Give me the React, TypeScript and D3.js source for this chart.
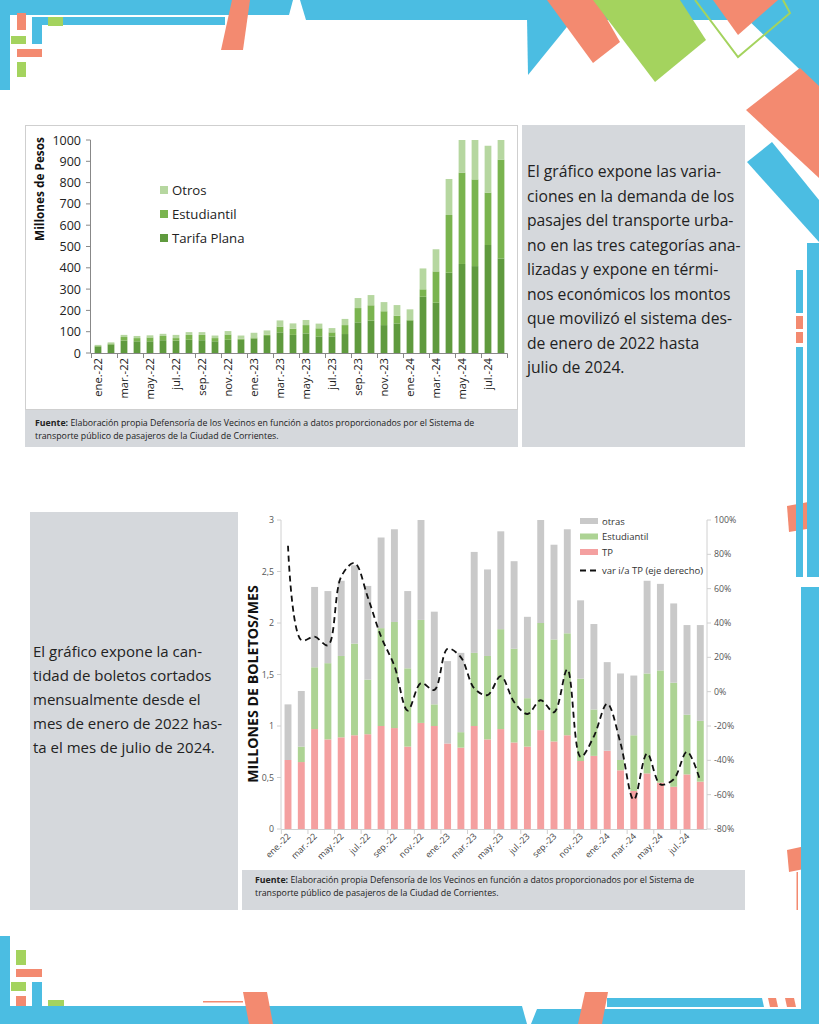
import React from 'react'
import * as d3 from 'd3'

// categorias: ene-22 .. ago-24
const months = [
  'ene.-22', 'feb.-22', 'mar.-22', 'abr.-22', 'may.-22', 'jun.-22', 'jul.-22', 'ago.-22',
  'sep.-22', 'oct.-22', 'nov.-22', 'dic.-22', 'ene.-23', 'feb.-23', 'mar.-23', 'abr.-23',
  'may.-23', 'jun.-23', 'jul.-23', 'ago.-23', 'sep.-23', 'oct.-23', 'nov.-23', 'dic.-23',
  'ene.-24', 'feb.-24', 'mar.-24', 'abr.-24', 'may.-24', 'jun.-24', 'jul.-24', 'ago.-24',
]

// grafico 1: millones de pesos
const tarifaPlana = [30, 40, 58, 55, 55, 60, 58, 62, 60, 55, 62, 62, 68, 80, 97, 85, 92, 78, 78, 89, 144, 152, 131, 139, 152, 264, 236, 377, 418, 408, 507, 444]
const estudiantil = [3, 5, 17, 15, 18, 20, 12, 23, 25, 15, 25, 5, 5, 6, 27, 29, 39, 38, 19, 42, 67, 72, 65, 36, 3, 35, 147, 271, 429, 407, 246, 464]
const otros = [5, 5, 10, 10, 10, 10, 15, 13, 13, 12, 16, 15, 22, 20, 29, 25, 24, 22, 20, 29, 47, 48, 43, 50, 50, 98, 104, 169, 153, 185, 220, 92]
const pesosTicks = [0, 100, 200, 300, 400, 500, 600, 700, 800, 900, 1000]

// grafico 2: millones de boletos / mes
const tp = [0.67, 0.65, 0.97, 0.87, 0.89, 0.91, 0.92, 1.0, 0.98, 0.80, 1.03, 1.0, 0.83, 0.79, 1.0, 0.87, 0.97, 0.84, 0.80, 0.96, 0.85, 0.91, 0.66, 0.71, 0.76, 0.57, 0.37, 0.54, 0.45, 0.41, 0.53, 0.46]
const estud = [0, 0.15, 0.60, 0.74, 0.79, 0.89, 0.53, 0.95, 1.03, 0.76, 1.0, 0.21, 0, 0.15, 0.71, 0.81, 0.97, 0.91, 0.47, 1.04, 0.99, 0.99, 0.80, 0.45, 0, 0.10, 0.54, 0.97, 1.09, 1.01, 0.58, 0.59]
const otras = [0.54, 0.54, 0.78, 0.70, 0.73, 0.76, 0.91, 0.88, 0.90, 0.75, 0.97, 0.90, 0.80, 0.77, 0.98, 0.84, 0.95, 0.85, 0.79, 1.0, 0.92, 1.01, 0.76, 0.83, 0.86, 0.84, 0.58, 0.90, 0.84, 0.77, 0.87, 0.93]
const varTP = [0.85, 0.30, 0.32, 0.27, 0.67, 0.75, 0.55, 0.32, 0.15, -0.11, 0.05, 0.01, 0.25, 0.20, 0.02, -0.02, 0.09, -0.06, -0.13, -0.05, -0.12, 0.13, -0.38, -0.26, -0.07, -0.30, -0.63, -0.36, -0.54, -0.51, -0.35, -0.52]
const boletosTicks = [0, 0.5, 1, 1.5, 2, 2.5, 3]
const pctTicks = [-0.8, -0.6, -0.4, -0.2, 0, 0.2, 0.4, 0.6, 0.8, 1.0]

const textTop = [
  'El gráfico expone las varia-',
  'ciones en la demanda de los',
  'pasajes del transporte urba-',
  'no en las tres categorías ana-',
  'lizadas y expone en térmi-',
  'nos económicos los montos',
  'que movilizó el sistema des-',
  'de enero de 2022 hasta',
  'julio de 2024.',
]
const textBottom = [
  'El gráfico expone la can-',
  'tidad de boletos cortados',
  'mensualmente desde el',
  'mes de enero de 2022 has-',
  'ta el mes de julio de 2024.',
]
const fuente1 = 'Elaboración propia Defensoría de los Vecinos en función a datos proporcionados por el Sistema de'
const fuente2 = 'transporte público de pasajeros de la Ciudad de Corrientes.'

const BLUE = '#4bbde2'
const SALMON = '#f38a70'
const GREEN = '#a4d35e'
const PANEL = '#d5d8dc'
const FONT = '"Open Sans", sans-serif'

const decoPolys: [string, number[][]][] = [
  [BLUE, [[0, 0], [293, 0], [289, 15], [0, 15]]],
  [BLUE, [[300, 0], [819, 0], [819, 20], [306, 20]]],
  [SALMON, [[232, 0], [250, 0], [243, 50], [221, 50]]],
  [BLUE, [[527, 17], [575, 17], [528, 75]]],
  [BLUE, [[745, 17], [819, 17], [819, 88]]],
  [SALMON, [[547, 0], [596, 0], [620, 42], [593, 63]]],
  [GREEN, [[593, 0], [680, 0], [706, 40], [655, 82]]],
  [SALMON, [[713, 0], [778, 0], [738, 35]]],
  [SALMON, [[746, 110], [800, 68], [819, 86], [819, 178]]],
  [BLUE, [[747, 162], [772, 142], [819, 200], [819, 242]]],
  [SALMON, [[787, 506], [819, 500], [819, 527], [789, 532]]],
  [SALMON, [[787, 850], [819, 843], [819, 866], [789, 872]]],
  [BLUE, [[0, 1006], [522, 1006], [527, 1024], [0, 1024]]],
  [BLUE, [[531, 1024], [537, 1009], [819, 1009], [819, 1024]]],
  [BLUE, [[607, 998], [762, 998], [764, 1007], [607, 1007]]],
  [SALMON, [[585, 992], [608, 992], [602, 1024], [578, 1024]]],
  [SALMON, [[243, 992], [267, 992], [273, 1024], [249, 1024]]],
  [SALMON, [[768, 998], [776, 998], [778, 1007], [770, 1007]]],
  [SALMON, [[785, 998], [794, 998], [796, 1007], [787, 1007]]],
]
const decoRects: [string, number, number, number, number][] = [
  [BLUE, 0, 0, 10, 90], [BLUE, 33, 17, 192, 8], [SALMON, 17, 13, 9, 17], [BLUE, 32, 17, 10, 27],
  [GREEN, 48, 17, 15, 9], [GREEN, 11, 36, 15, 8], [SALMON, 17, 49, 25, 8], [GREEN, 17, 62, 9, 15],
  [BLUE, 807, 243, 12, 334], [BLUE, 796, 270, 7, 43], [SALMON, 796, 316, 7, 13], [SALMON, 796, 332, 7, 11],
  [BLUE, 796, 347, 7, 230], [BLUE, 801, 587, 18, 437], [SALMON, 796.5, 872, 1.5, 38],
  [BLUE, 0, 936, 10, 70], [GREEN, 16, 950, 10, 15], [SALMON, 16, 969, 26, 8], [GREEN, 11, 982, 15, 9],
  [BLUE, 32, 982, 10, 24], [SALMON, 16, 996, 10, 10], [GREEN, 48, 1000, 16, 6], [SALMON, 203, 1001, 40, 1.5],
]

function PesosChart() {
  const x = d3.scaleBand<string>().domain(months).range([91.5, 507.5]).paddingInner(0.48).paddingOuter(0.24)
  const y = d3.scaleLinear().domain([0, 1000]).range([353, 140])
  const rows = months.map((m, i) => ({ m, tarifa: tarifaPlana[i], est: estudiantil[i], otros: otros[i] }))
  const series = d3.stack<any>().keys(['tarifa', 'est', 'otros'])(rows)
  const colors = ['#5f9a3e', '#7ab44f', '#b6d7a0']
  const step = x.step()
  const legend = [['Otros', colors[2]], ['Estudiantil', colors[1]], ['Tarifa Plana', colors[0]]]
  return (
    <g fontFamily={FONT}>
      <rect x={25.5} y={125.5} width={492} height={284} fill="#fff" stroke="#cfcfcf" />
      <rect x={25} y={410} width={493} height={37} fill={PANEL} />
      <text transform="translate(44,189) rotate(-90)" textAnchor="middle" fontSize={11.8} fontWeight="bold" fill="#111">Millones de Pesos</text>
      <line x1={90.5} x2={90.5} y1={y(1000)} y2={y(0)} stroke="#888" />
      {pesosTicks.map(t => (
        <g key={t}>
          <line x1={86} x2={90.5} y1={y(t)} y2={y(t)} stroke="#888" />
          <text x={81} y={y(t) + 4.5} textAnchor="end" fontSize={12.5} fill="#222">{t}</text>
        </g>
      ))}
      {series.map((s, si) => s.map((d, i) => (
        <rect key={si + '-' + i} x={x(months[i])} width={x.bandwidth()} y={y(d[1])} height={y(d[0]) - y(d[1])} fill={colors[si]} />
      )))}
      <line x1={90.5} x2={507.5} y1={353.5} y2={353.5} stroke="#888" />
      {months.map((m, i) => i % 2 === 0 ? (
        <g key={m}>
          <line x1={(x(m) as number) - step * 0.24} x2={(x(m) as number) - step * 0.24} y1={353.5} y2={358} stroke="#888" />
          <text transform={`translate(${(x(m) as number) + x.bandwidth() / 2 + 3.8},358) rotate(-90)`} textAnchor="end" fontSize={11.2} fill="#222">{m}</text>
        </g>
      ) : null)}
      <line x1={507.5} x2={507.5} y1={353.5} y2={358} stroke="#888" />
      {legend.map(([label, c], i) => (
        <g key={label}>
          <rect x={160} y={186 + i * 24} width={8} height={8} fill={c} />
          <text x={172} y={195 + i * 24} fontSize={13.2} fill="#222">{label}</text>
        </g>
      ))}
      <text x={35} y={426} fontSize={8.8} fill="#222"><tspan fontWeight="bold">Fuente:</tspan> {fuente1}</text>
      <text x={35} y={439} fontSize={8.8} fill="#222">{fuente2}</text>
    </g>
  )
}

function BoletosChart() {
  const x = d3.scaleBand<string>().domain(months).range([281.35, 706.95]).paddingInner(0.48).paddingOuter(0.24)
  const y = d3.scaleLinear().domain([0, 3]).range([829, 520])
  const y2 = d3.scaleLinear().domain([-0.8, 1.0]).range([829, 520])
  const rows = months.map((m, i) => ({ m, tp: tp[i], est: estud[i], otras: otras[i] }))
  const series = d3.stack<any>().keys(['tp', 'est', 'otras'])(rows)
  const colors = ['#f4a0a0', '#add394', '#c9c9c9']
  const cx = (m: string) => (x(m) as number) + x.bandwidth() / 2
  const line = d3.line<number>().x((_, i) => cx(months[i])).y(v => y2(v)).curve(d3.curveCatmullRom.alpha(0.5))
  const step = x.step()
  const fmt = (v: number) => String(v).replace('.', ',')
  const legend = [['otras', colors[2]], ['Estudiantil', colors[1]], ['TP', colors[0]]]
  return (
    <g fontFamily={FONT}>
      <rect x={242} y={510} width={503} height={360} fill="#fff" />
      <rect x={242} y={870} width={503} height={40} fill={PANEL} />
      <text transform="translate(258,684) rotate(-90)" textAnchor="middle" fontSize={14.2} fontWeight="bold" fill="#111">MILLONES DE BOLETOS/MES</text>
      <line x1={281} x2={281} y1={520} y2={829} stroke="#d0d0d0" />
      <line x1={707} x2={707} y1={520} y2={829} stroke="#d0d0d0" />
      {boletosTicks.map(t => (
        <g key={t}>
          <line x1={277} x2={281} y1={y(t)} y2={y(t)} stroke="#d0d0d0" />
          <text x={274} y={y(t) + 3} textAnchor="end" fontSize={8.8} fill="#555">{fmt(t)}</text>
        </g>
      ))}
      {pctTicks.map(t => (
        <g key={t}>
          <line x1={707} x2={711} y1={y2(t)} y2={y2(t)} stroke="#d0d0d0" />
          <text x={714} y={y2(t) + 3} fontSize={8.8} fill="#555">{Math.round(t * 100)}%</text>
        </g>
      ))}
      {series.map((s, si) => s.map((d, i) => (
        <rect key={si + '-' + i} x={x(months[i])} width={x.bandwidth()} y={y(d[1])} height={y(d[0]) - y(d[1])} fill={colors[si]} />
      )))}
      <line x1={281} x2={707} y1={829.5} y2={829.5} stroke="#d0d0d0" />
      {months.map((m, i) => i % 2 === 0 ? (
        <g key={m}>
          <line x1={(x(m) as number) - step * 0.24} x2={(x(m) as number) - step * 0.24} y1={829.5} y2={834} stroke="#d0d0d0" />
          <text transform={`translate(${cx(m) + 3},837) rotate(-45)`} textAnchor="end" fontSize={8.8} fill="#444">{m}</text>
        </g>
      ) : null)}
      <path d={line(varTP) as string} fill="none" stroke="#111" strokeWidth={1.8} strokeDasharray="6,4" />
      {legend.map(([label, c], i) => (
        <g key={label}>
          <rect x={580} y={518 + i * 15.5} width={18} height={6} fill={c} />
          <text x={602} y={524.5 + i * 15.5} fontSize={9.5} fill="#333">{label}</text>
        </g>
      ))}
      <line x1={580} x2={598} y1={570.5} y2={570.5} stroke="#111" strokeWidth={1.8} strokeDasharray="6,4" />
      <text x={602} y={573.5} fontSize={9.5} fill="#333">var i/a TP (eje derecho)</text>
      <text x={255} y={883} fontSize={8.8} fill="#222"><tspan fontWeight="bold">Fuente:</tspan> {fuente1}</text>
      <text x={255} y={896} fontSize={8.8} fill="#222">{fuente2}</text>
    </g>
  )
}

export default function App() {
  return (
    <svg width={819} height={1024} style={{ position: 'absolute', left: 0, top: 0, background: '#fff' }}>
      <rect width={819} height={1024} fill="#fff" />
      {decoPolys.map(([c, p], i) => <polygon key={'p' + i} points={p.map(q => q.join(',')).join(' ')} fill={c} />)}
      {decoRects.map(([c, rx, ry, w, h], i) => <rect key={'r' + i} x={rx} y={ry} width={w} height={h} fill={c} />)}
      <polyline points="695,0 738,57 790,13 783,0" fill="none" stroke={GREEN} strokeWidth={2} />

      <PesosChart />
      <rect x={522} y={125} width={223} height={322} fill={PANEL} />
      <g fontFamily={FONT} fontSize={15.7} fill="#222">
        {textTop.map((t, i) => <text key={i} x={527} y={177 + i * 24.5}>{t}</text>)}
      </g>

      <rect x={30} y={512} width={208} height={398} fill={PANEL} />
      <g fontFamily={FONT} fontSize={15} fill="#222">
        {textBottom.map((t, i) => <text key={i} x={33} y={657 + i * 24}>{t}</text>)}
      </g>
      <BoletosChart />
    </svg>
  )
}
